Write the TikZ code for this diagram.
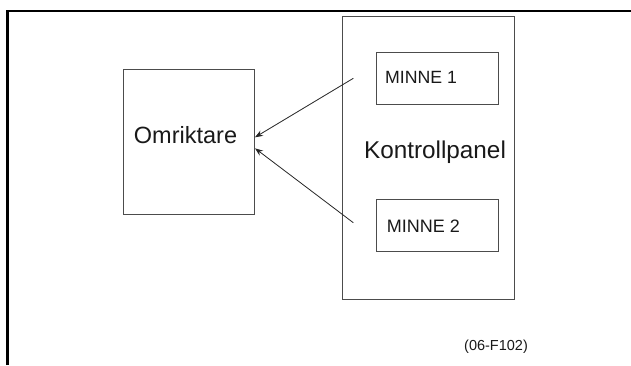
\documentclass[tikz,border=0pt]{standalone}
\usepackage{fontspec}
\setmainfont{Liberation Sans}
\usetikzlibrary{arrows.meta}
\begin{document}
\begin{tikzpicture}[x=1pt,y=-1pt,
  box/.style={draw=black!70,line width=1pt,inner sep=0pt,anchor=north west},
  lbl/.style={inner sep=0pt,text=black!90},
  conn/.style={draw=black!85,line width=0.8pt,-{Stealth[length=8pt,width=6pt]}},
  frameline/.style={line width=2.5pt,draw=black}]
\useasboundingbox (0,0) rectangle (631,365);
% frame
\coordinate (fbl) at (7.5,365);
\coordinate (ftl) at (7.5,11);
\coordinate (ftr) at (631,11);
\draw[frameline] (fbl) -- (ftl) -- (ftr);
% boxes
\node[box,minimum width=130.7pt,minimum height=145.3pt] (omr) at (123.3,69) {};
\node[box,minimum width=172pt,minimum height=283pt] (kp) at (341.7,16) {};
\node[box,minimum width=122.3pt,minimum height=52.3pt] (m1) at (375.7,51.7) {};
\node[box,minimum width=122.3pt,minimum height=52pt] (m2) at (375.7,199) {};
% labels
\node[lbl,anchor=base,font=\fontsize{23.5}{26}\selectfont] (omrt) at (185.5,143.3) {Omriktare};
\node[lbl,anchor=base,font=\fontsize{24.3}{27}\selectfont] (kpt) at (435,158.3) {Kontrollpanel};
\node[lbl,anchor=base west,font=\fontsize{17.7}{20}\selectfont] (m1t) at (385,83.3) {MINNE 1};
\node[lbl,anchor=base west,font=\fontsize{18}{20}\selectfont] (m2t) at (386.7,232.3) {MINNE 2};
\node[lbl,anchor=base west,font=\fontsize{14.5}{16}\selectfont] (cap) at (464,350) {(06-F102)};
% connectors
\coordinate (a1s) at (353.3,78.3);
\coordinate (a2s) at (353.3,222.7);
\coordinate (a1e) at (255,137.3);
\coordinate (a2e) at (255,148.3);
\draw[conn] (a1s) -- (a1e);
\draw[conn] (a2s) -- (a2e);
\end{tikzpicture}
\end{document}
